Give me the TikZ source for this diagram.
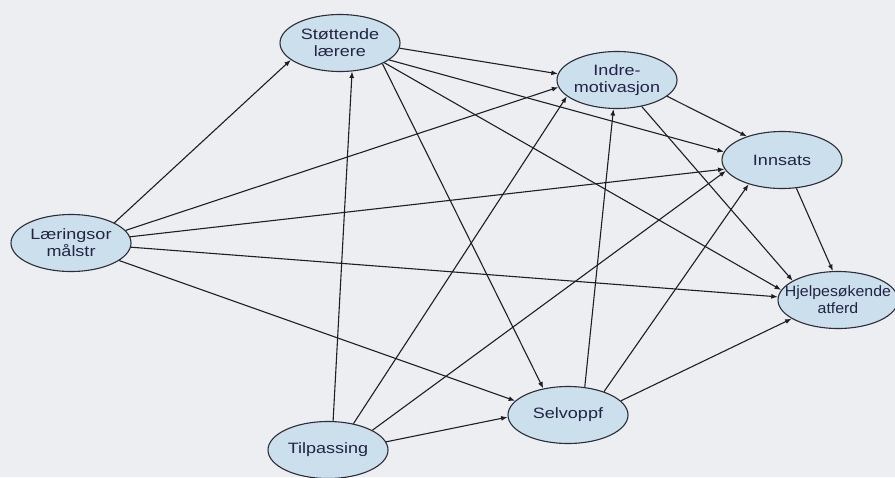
\documentclass[tikz,border=0pt]{standalone}
\usepackage{fontspec}
\setmainfont{Liberation Sans}[FakeStretch=1.2]
\newfontfamily\narrowfont{Liberation Sans}[FakeStretch=1.06]
\usetikzlibrary{shapes.geometric,arrows.meta}
\definecolor{bgc}{RGB}{237,238,242}
\definecolor{nodefill}{RGB}{204,223,236}
\definecolor{nodeline}{RGB}{45,45,55}
\definecolor{txt}{RGB}{35,35,70}
\definecolor{edgec}{RGB}{30,30,35}
\tikzset{
  var/.style={ellipse, draw=nodeline, line width=1.1pt, fill=nodefill,
    minimum width=120pt, minimum height=57pt, inner ysep=0pt, inner xsep=-14pt,
    align=center, text=txt, font=\fontsize{15}{17}\selectfont},
  arr/.style={draw=edgec, line width=1.1pt, -{Latex[length=6.5pt,width=5pt]}}
}
\begin{document}
\begin{tikzpicture}[x=1pt,y=-1pt]
\fill[bgc] (0,0) rectangle (895,477);
\useasboundingbox (0,0) rectangle (895,477);
\begin{scope}
\clip (0,0) rectangle (895,477);
\node[var] (S) at (340,43) {Støttende\\lærere};
\node[var] (I) at (617,80) {Indre-\\motivasjon};
\node[var] (N) at (782,160) {Innsats};
\node[var] (L) at (71,243) {Læringsor\\målstr};
\node[var] (T) at (328,450) {Tilpassing};
\node[var] (V) at (568,415) {Selvoppf};
\node[var, inner xsep=-20pt, font=\fontsize{15}{17}\narrowfont] (H) at (838,300) {Hjelpesøkende\\atferd};

% from L
\draw[arr] (L.25) -- (S.199);
\draw[arr] (L.13) -- (I.187);
\draw[arr] (L.6) -- (N.189);
\draw[arr] (L.356) -- (H.177);
\draw[arr] (L.340) -- (V.165);
% from T
\draw[arr] (T.80) -- (S.293);
\draw[arr] (T.46) -- (I.198);
\draw[arr] (T.24) -- (N.191);
\draw[arr] (T.8) -- (V.182);
% from S
\draw[arr] (S.355) -- (I.174);
\draw[arr] (S.341) -- (N.172);
\draw[arr] (S.336) -- (H.170);
\draw[arr] (S.334) -- (V.133);
% from I
\draw[arr] (I.342) -- (N.146);
\draw[arr] (I.313) -- (H.157);
% from V
\draw[arr] (V.59) -- (I.263);
\draw[arr] (V.33) -- (N.216);
\draw[arr] (V.15) -- (H.202);
% from N
\draw[arr] (N.297) -- (H.100);
\end{scope}
\end{tikzpicture}
\end{document}
